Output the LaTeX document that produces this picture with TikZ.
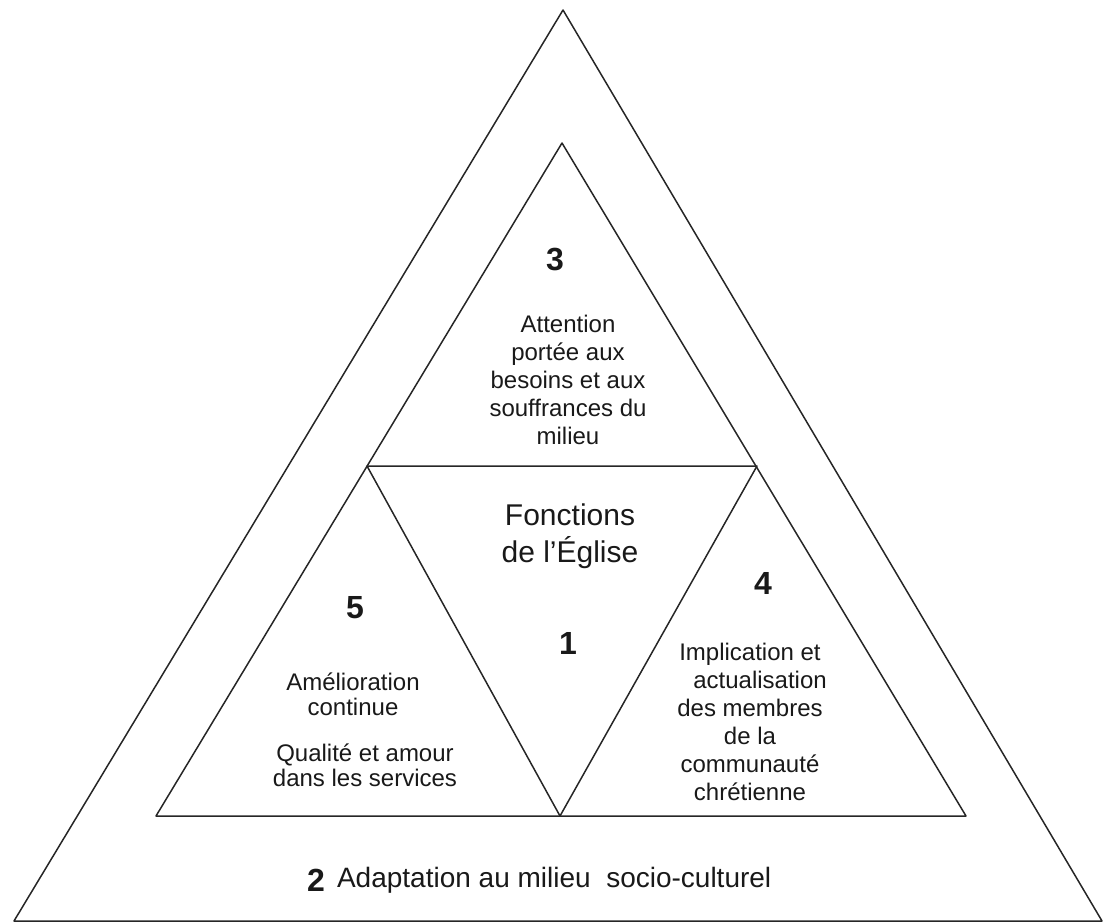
\documentclass[tikz,border=0pt]{standalone}
\usepackage{fontspec}
\setmainfont{Liberation Sans}
\usetikzlibrary{positioning}

\begin{document}
\begin{tikzpicture}[x=1pt,y=-1pt,line width=1.5pt,line join=round,
  txt/.style={font=\fontsize{24}{28}\selectfont,align=center,text=black!90},
  num/.style={font=\fontsize{32}{32}\selectfont\bfseries,text=black!90}]
\useasboundingbox (0,0) rectangle (1103,923);
\coordinate (otop) at (563,10); \coordinate (oleft) at (14,921); \coordinate (oright) at (1102,921);
\coordinate (itop) at (562,143); \coordinate (ileft) at (156,816); \coordinate (iright) at (966,816);
\coordinate (cleft) at (367,466); \coordinate (cright) at (757,466); \coordinate (cbot) at (560,816);
\draw[black!85] (otop)--(oleft)--(oright)--cycle;
\draw[black!85] (itop)--(ileft)--(iright)--cycle;
\draw[black!85] (cleft)--(cright)--(cbot)--cycle;
\node[num] (three) at (555,260) {3};
\node[txt] (besoins) at (568,380) {Attention\\portée aux\\besoins et aux\\souffrances du\\milieu};
\node[txt,font=\fontsize{30}{37}\selectfont] (fonctions) at (570,536) {Fonctions\\de l’Église};
\node[num] (one) at (568,643) {1};
\node[num] (five) at (355,608) {5};
\node[txt,font=\fontsize{24}{25}\selectfont] (amelio) at (353,694) {Amélioration\\continue};
\node[txt,font=\fontsize{24}{25}\selectfont] (qualite) at (365,765) {Qualité et amour\\dans les services};
\node[num] (four) at (763,583) {4};
\node[txt] (implic) at (750,722) {Implication et\\\hspace*{20pt}actualisation\\des membres\\de la\\communauté\\chrétienne};
\node[num] (two) at (316,880) {2};
\node[txt,font=\fontsize{28}{30}\selectfont,right=4pt of two] (adapt) {Adaptation au milieu\ \ socio-culturel};
\end{tikzpicture}
\end{document}
